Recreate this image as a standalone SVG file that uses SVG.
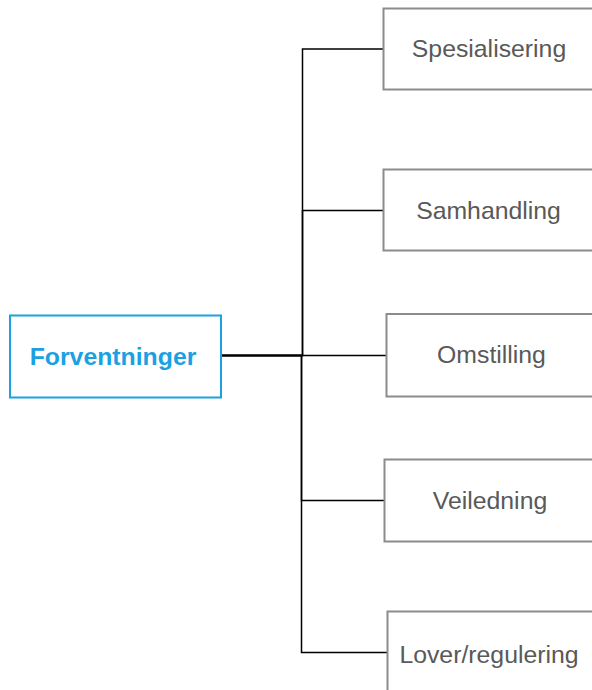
<svg xmlns="http://www.w3.org/2000/svg" width="592" height="690" viewBox="0 0 592 690">
  <style>
    .child rect { fill: #ffffff; stroke: #8c8c8c; stroke-width: 2; }
    .child text { font-family: "Liberation Sans", Arial, sans-serif; font-size: 24.8px; fill: #595959; text-anchor: middle; }
    .root rect { fill: #ffffff; stroke: #1ba1e2; stroke-width: 2; }
    .root text { font-family: "Liberation Sans", Arial, sans-serif; font-size: 24.8px; font-weight: bold; fill: #1ba1e2; text-anchor: middle; }
    .conn path { fill: none; stroke: #000000; stroke-width: 1.5; }
  </style>
  <rect width="592" height="690" fill="#ffffff"/>
  <g id="connectors" class="conn">
    <path d="M221,355.5 H302.5 V49 H383"/>
    <path d="M221,355.5 H302.5 V210.5 H383"/>
    <path d="M221,355.5 H386"/>
    <path d="M221,355.5 H301.5 V500.5 H384"/>
    <path d="M221,355.5 H301.5 V652.5 H387"/>
  </g>
  <g id="node-forventninger" class="root">
    <rect x="10" y="315.5" width="211" height="82"/>
    <text x="113" y="364.5">Forventninger</text>
  </g>
  <g id="node-spesialisering" class="child">
    <rect x="383.5" y="8.5" width="220" height="81"/>
    <text x="489" y="57">Spesialisering</text>
  </g>
  <g id="node-samhandling" class="child">
    <rect x="383.5" y="169.5" width="220" height="81"/>
    <text x="488.5" y="218.5">Samhandling</text>
  </g>
  <g id="node-omstilling" class="child">
    <rect x="386.5" y="314" width="220" height="82.5"/>
    <text x="491.5" y="363">Omstilling</text>
  </g>
  <g id="node-veiledning" class="child">
    <rect x="384.5" y="459.5" width="220" height="82"/>
    <text x="490" y="509">Veiledning</text>
  </g>
  <g id="node-lover" class="child">
    <rect x="387.5" y="611.5" width="220" height="90"/>
    <text x="489" y="662.5">Lover/regulering</text>
  </g>
</svg>
